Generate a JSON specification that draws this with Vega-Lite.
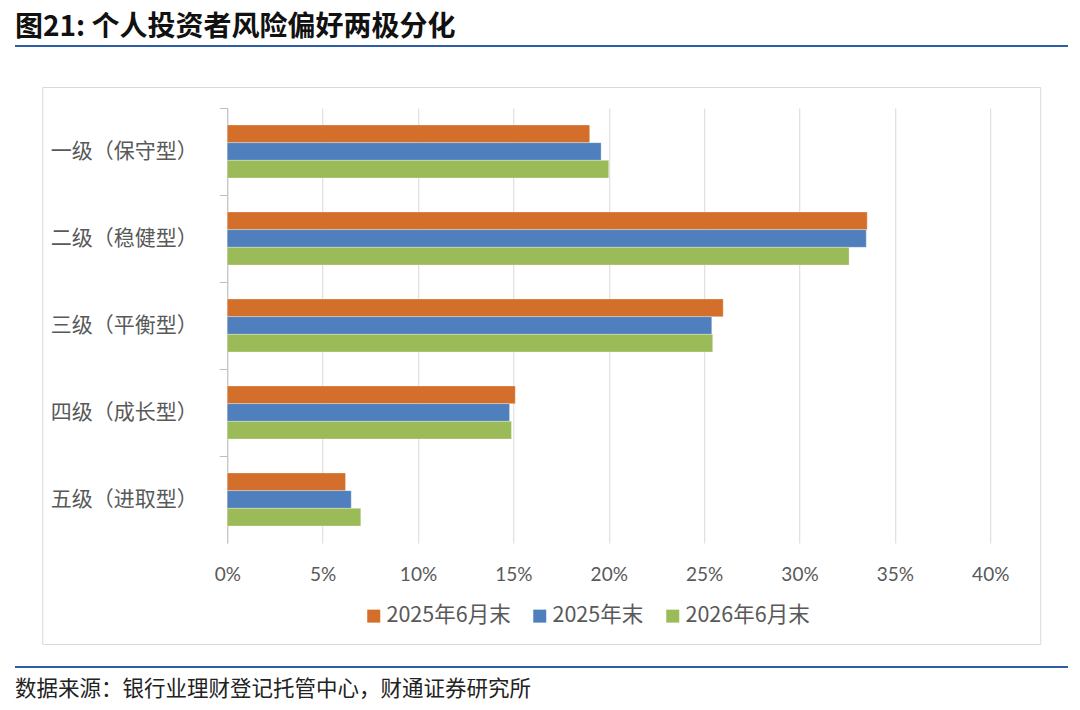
{
  "$schema": "https://vega.github.io/schema/vega-lite/v6.json",
  "padding": {"left": 15, "top": 14, "right": 5, "bottom": 5},
  "background": "white",
  "config": {"font": "Noto Sans CJK SC"},
  "spacing": 21,
  "center": true,
  "vconcat": [
    {
      "width": 1053,
      "height": 2,
      "view": {"fill": "#2f5ea8", "stroke": null},
      "title": {
        "text": "图21: 个人投资者风险偏好两极分化",
        "anchor": "start",
        "font": "Noto Sans CJK SC",
        "fontSize": 28,
        "fontWeight": "bold",
        "color": "#111111",
        "offset": 3
      },
      "data": {"values": []},
      "mark": "rule",
      "encoding": {}
    },
    {
      "width": 998,
      "height": 557,
      "view": {"stroke": "#d9d9d9", "strokeWidth": 1},
      "title": {"text": ".", "fontSize": 13, "color": "#ffffff", "offset": 5},
      "data": {
        "values": [
          {"level": "一级（保守型）", "series": "2025年6月末", "value": 0.190},
          {"level": "一级（保守型）", "series": "2025年末", "value": 0.196},
          {"level": "一级（保守型）", "series": "2026年6月末", "value": 0.200},
          {"level": "二级（稳健型）", "series": "2025年6月末", "value": 0.3355},
          {"level": "二级（稳健型）", "series": "2025年末", "value": 0.335},
          {"level": "二级（稳健型）", "series": "2026年6月末", "value": 0.326},
          {"level": "三级（平衡型）", "series": "2025年6月末", "value": 0.260},
          {"level": "三级（平衡型）", "series": "2025年末", "value": 0.254},
          {"level": "三级（平衡型）", "series": "2026年6月末", "value": 0.2545},
          {"level": "四级（成长型）", "series": "2025年6月末", "value": 0.151},
          {"level": "四级（成长型）", "series": "2025年末", "value": 0.148},
          {"level": "四级（成长型）", "series": "2026年6月末", "value": 0.149},
          {"level": "五级（进取型）", "series": "2025年6月末", "value": 0.062},
          {"level": "五级（进取型）", "series": "2025年末", "value": 0.065},
          {"level": "五级（进取型）", "series": "2026年6月末", "value": 0.070}
        ]
      },
      "mark": {"type": "bar", "stroke": "#ffffff", "strokeWidth": 0.5, "strokeOpacity": 0.6},
      "encoding": {
        "y": {
          "field": "level",
          "type": "nominal",
          "sort": ["一级（保守型）", "二级（稳健型）", "三级（平衡型）", "四级（成长型）", "五级（进取型）"],
          "scale": {"range": [21, 456], "paddingInner": 0.39, "paddingOuter": 0.195},
          "title": null,
          "axis": {
            "offset": -185,
            "domainColor": "#bfbfbf",
            "tickColor": "#bfbfbf",
            "tickSize": 8,
            "tickOffset": -43.5,
            "labelOffset": 43.5,
            "labelPadding": 22,
            "labelFontSize": 21,
            "labelColor": "#595959",
            "labelFont": "Noto Sans CJK SC",
            "labelLimit": 300
          }
        },
        "yOffset": {
          "field": "series",
          "sort": ["2025年6月末", "2025年末", "2026年6月末"],
          "scale": {"paddingInner": 0, "paddingOuter": 0}
        },
        "x": {
          "field": "value",
          "type": "quantitative",
          "scale": {"domain": [0, 0.4], "range": [185, 948], "nice": false},
          "title": null,
          "axis": {
            "orient": "top",
            "offset": -499,
            "values": [0, 0.05, 0.1, 0.15, 0.2, 0.25, 0.3, 0.35, 0.4],
            "format": ".0%",
            "domain": false,
            "ticks": false,
            "grid": true,
            "gridColor": "#d9d9d9",
            "labelFlush": false,
            "labelPadding": 2,
            "labelFontSize": 19,
            "labelColor": "#595959",
            "labelFont": "Lato"
          }
        },
        "color": {
          "field": "series",
          "type": "nominal",
          "sort": ["2025年6月末", "2025年末", "2026年6月末"],
          "scale": {
            "domain": ["2025年6月末", "2025年末", "2026年6月末"],
            "range": ["#d46f2b", "#4f80bd", "#9bbb59"]
          },
          "legend": {
            "title": null,
            "orient": "none",
            "direction": "horizontal",
            "legendX": 348,
            "legendY": 560,
            "symbolType": "square",
            "symbolSize": 169,
            "symbolStrokeWidth": 0,
            "labelFontSize": 21.5,
            "labelColor": "#595959",
            "labelFont": "Noto Sans CJK SC",
            "labelOffset": 2,
            "columnPadding": 18
          }
        }
      }
    },
    {
      "width": 1053,
      "height": 2,
      "view": {"fill": "#2f5ea8", "stroke": null},
      "title": {
        "text": "数据来源：银行业理财登记托管中心，财通证券研究所",
        "orient": "bottom",
        "anchor": "start",
        "font": "Noto Sans CJK SC",
        "fontSize": 21.5,
        "fontWeight": "normal",
        "color": "#222222",
        "offset": 11
      },
      "data": {"values": []},
      "mark": "rule",
      "encoding": {}
    }
  ]
}
